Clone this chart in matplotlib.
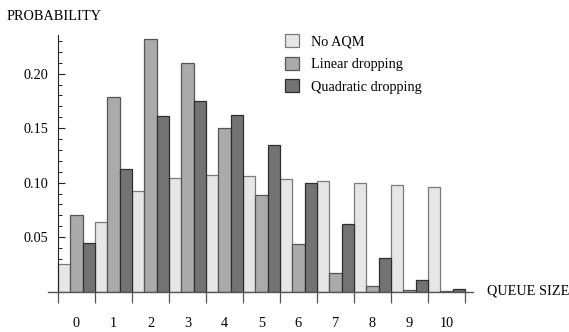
import matplotlib
matplotlib.use("Agg")
import matplotlib.pyplot as plt
import numpy as np
from matplotlib.ticker import FixedLocator, NullFormatter

plt.rcParams['font.family'] = ['Liberation Serif', 'DejaVu Serif']

queue_sizes = ["0", "1", "2", "3", "4", "5", "6", "7", "8", "9", "10"]
no_aqm = [0.0251, 0.0642, 0.0924, 0.1043, 0.1070, 0.1058, 0.1034, 0.1013, 0.0994, 0.0976, 0.0958]
linear = [0.0700, 0.1790, 0.2316, 0.2095, 0.1500, 0.0890, 0.0435, 0.0169, 0.0050, 0.0013, 0.0002]
quadratic = [0.0444, 0.1126, 0.1610, 0.1750, 0.1624, 0.1346, 0.0994, 0.0624, 0.0310, 0.0110, 0.0025]
series_names = ["No AQM", "Linear dropping", "Quadratic dropping"]

W, H = 569, 332
fig = plt.figure(figsize=(W / 100, H / 100), dpi=100)
ax = fig.add_axes([48 / W, (H - 291.7) / H, 425 / W, (291.7 - 35) / H])

x = np.arange(len(queue_sizes))
bw = 1 / 3
fills = ['#e6e6e6', '#aaaaaa', '#737373']
edges = ['#7a7a7a', '#555555', '#2e2e2e']
for k, vals in enumerate([no_aqm, linear, quadratic]):
    ax.bar(x + bw * (k + 0.5), vals, width=bw, color=fills[k], edgecolor=edges[k],
           linewidth=0.9, label=series_names[k], zorder=2)

ax.set_xlim(-0.27, 11.22)
ax.set_ylim(0, 0.2355)

for s in ['top', 'right']:
    ax.spines[s].set_visible(False)
ax.spines['left'].set_position(('data', 0))
ax.spines['left'].set_color('#222222')
ax.spines['bottom'].set_color('#555555')
ax.spines['left'].set_linewidth(0.8)
ax.spines['bottom'].set_linewidth(1.0)

# y ticks
ax.yaxis.set_major_locator(FixedLocator([0.05, 0.10, 0.15, 0.20]))
ax.yaxis.set_minor_locator(FixedLocator([v / 100 for v in range(1, 24) if v % 5 != 0]))
ax.set_yticklabels(["0.05", "0.10", "0.15", "0.20"])
ax.tick_params(axis='y', which='major', direction='in', length=5, width=0.8, pad=7,
               labelsize=10.3, color='#222222')
ax.tick_params(axis='y', which='minor', direction='in', length=3, width=0.7, color='#222222')

# x ticks: marks at group boundaries, labels at group centers
ax.xaxis.set_major_locator(FixedLocator(list(range(0, len(queue_sizes) + 1))))
ax.xaxis.set_major_formatter(NullFormatter())
ax.xaxis.set_minor_locator(FixedLocator(list(x + 0.5)))
ax.set_xticklabels(queue_sizes, minor=True)
ax.tick_params(axis='x', which='major', direction='out', length=8, width=0.9, color='#555555')
ax.tick_params(axis='x', which='minor', length=0, pad=18, labelsize=10.3)

fig.text(7 / W, 1 - 16 / H, "PROBABILITY", fontsize=10.3, va='center', ha='left')
fig.text(487 / W, 1 - 291 / H, "QUEUE SIZE", fontsize=10.3, va='center', ha='left')

leg = ax.legend(loc='upper left', bbox_to_anchor=(285 / W, 1 - 34 / H),
                bbox_transform=fig.transFigure, frameon=False, fontsize=10.3,
                handlelength=1.0, handleheight=1.05, handletextpad=0.84,
                labelspacing=0.56, borderpad=0, borderaxespad=0)

fig.savefig("out.png", dpi=100)
